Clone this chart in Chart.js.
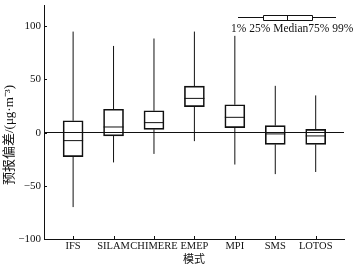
<!DOCTYPE html>
<html>
<head>
<meta charset="utf-8">
<script src="https://cdn.jsdelivr.net/npm/chart.js@4.4.0/dist/chart.umd.min.js"></script>
<style>
  html, body { margin: 0; padding: 0; background: #fff; }
  #wrap { width: 359px; height: 267px; }
</style>
</head>
<body>
<div id="wrap"><canvas id="myChart"></canvas></div>
<script>
// model names and box statistics (1%, 25%, median, 75%, 99%)
var models = ["IFS", "SILAM", "CHIMERE", "EMEP", "MPI", "SMS", "LOTOS"];
var p1 = [-70, -28, -20, -8, -30, -39, -37];
var p25 = [-22.5, -3, 3, 24.5, 4.7, -11, -11];
var median = [-7.5, 5.3, 9.4, 32.2, 14.4, -1.2, -3.1];
var p75 = [11.2, 22, 20.6, 43.8, 26.2, 6.6, 3.1];
var p99 = [95, 81.5, 88.5, 95, 91, 44, 35];
var yTicks = [-100, -50, 0, 50, 100];
var legendText = "1% 25% Median75% 99%";

var serif = "'Liberation Serif', 'Noto Sans CJK SC', serif";

//build datasets
var whiskerData = [], boxData = [], medianData = [];
for (var i = 0; i < models.length; i++) {
    whiskerData.push({x: i, y: p1[i]}, {x: i, y: p25[i]}, {x: i, y: null});
    whiskerData.push({x: i, y: p75[i]}, {x: i, y: p99[i]}, {x: i, y: null});
    boxData.push({x: i, y: [p25[i], p75[i]]});
    medianData.push({x: i, y: median[i]});
}

//inward tick marks and the little legend box
var extras = {
    id: "extras",
    afterDraw: function (chart) {
        var c = chart.ctx, xs = chart.scales.x, ys = chart.scales.y;
        var area = chart.chartArea;
        c.save();
        c.strokeStyle = "#111";
        c.lineWidth = 1;
        c.beginPath();
        for (var i = 0; i < models.length; i++) {
            var px = Math.round(xs.getPixelForValue(i)) + 0.5;
            c.moveTo(px, area.bottom);
            c.lineTo(px, area.bottom - 3);
        }
        for (var j = 0; j < yTicks.length; j++) {
            var py = Math.round(ys.getPixelForValue(yTicks[j])) + 0.5;
            c.moveTo(area.left, py);
            c.lineTo(area.left + 3, py);
        }
        c.stroke();

        //legend
        c.beginPath();
        c.moveTo(238, 17.5); c.lineTo(263, 17.5);
        c.moveTo(312, 17.5); c.lineTo(336, 17.5);
        c.rect(263.5, 15.5, 49, 5);
        c.moveTo(287.5, 15.5); c.lineTo(287.5, 20.5);
        c.stroke();
        c.fillStyle = "#111";
        c.font = "11.5px " + serif;
        c.textBaseline = "alphabetic";
        c.fillText(legendText, 231, 32);
        c.restore();
    }
};

var ctx = document.getElementById("myChart");
var myChart = new Chart(ctx, {
    type: "bar",
    data: {
        datasets: [{
            type: "line",
            data: medianData,
            showLine: false,
            pointStyle: "line",
            pointRadius: 10,
            pointBorderWidth: 1,
            pointBorderColor: "#111",
            borderColor: "#111"
        }, {
            type: "bar",
            data: boxData,
            grouped: false,
            barThickness: 20,
            backgroundColor: "rgba(0,0,0,0)",
            borderColor: "#111",
            borderWidth: 1,
            borderSkipped: false
        }, {
            type: "line",
            data: whiskerData,
            borderColor: "#111",
            borderWidth: 1,
            pointRadius: 0,
            spanGaps: false,
            fill: false
        }]
    },
    options: {
        responsive: true,
        maintainAspectRatio: false,
        animation: false,
        events: [],
        layout: { autoPadding: false, padding: { top: 5, right: 15, left: 0, bottom: 0 } },
        plugins: { legend: { display: false }, tooltip: { enabled: false } },
        scales: {
            x: {
                type: "linear",
                offset: false,
                min: -0.72,
                max: 6.7,
                afterBuildTicks: function (scale) {
                    scale.ticks = models.map(function (m, i) { return {value: i}; });
                },
                afterFit: function (scale) {
                    scale.height = 28;
                    scale.paddingLeft = 0;
                    scale.paddingRight = 0;
                },
                grid: { display: false, drawTicks: false, offset: false },
                border: { display: true, color: "#111", width: 1 },
                ticks: {
                    padding: 1,
                    color: "#111",
                    font: { family: serif, size: 10.5 },
                    maxRotation: 0,
                    autoSkip: false,
                    callback: function (v) { return models[v]; }
                },
                title: {
                    display: true,
                    text: "模式",
                    color: "#111",
                    font: { family: serif, size: 11 },
                    padding: 0
                }
            },
            y: {
                min: -100,
                max: 120,
                afterBuildTicks: function (scale) {
                    scale.ticks = yTicks.map(function (v) { return {value: v}; });
                },
                afterFit: function (scale) {
                    scale.width = 44;
                    scale.paddingTop = 0;
                    scale.paddingBottom = 0;
                },
                grid: {
                    drawTicks: false,
                    color: function (c) { return c.tick && c.tick.value === 0 ? "#111" : "rgba(0,0,0,0)"; }
                },
                border: { display: true, color: "#111", width: 1 },
                ticks: {
                    padding: 3,
                    color: "#111",
                    font: { family: serif, size: 11 },
                    callback: function (v) { return String(v).replace("-", "\u2212"); }
                },
                title: {
                    display: true,
                    // trailing en spaces push the text a little below the axis middle, as in the original
                    text: "预报偏差/(μg·m⁻³)\u2002\u2002\u2002\u2002",
                    color: "#111",
                    font: { family: serif, size: 13 },
                    padding: { top: 2, bottom: 0 }
                }
            }
        }
    },
    plugins: [extras]
});
</script>
</body>
</html>
